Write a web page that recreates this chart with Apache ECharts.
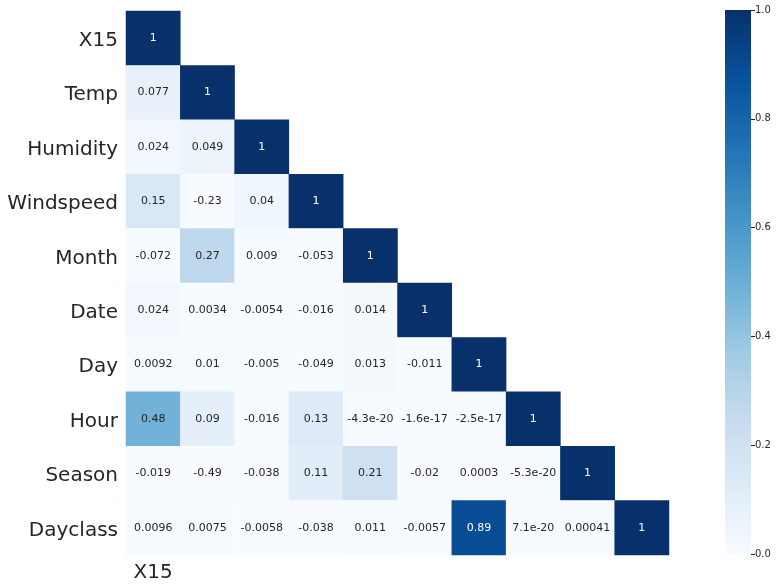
<!DOCTYPE html>
<html>
<head>
<meta charset="UTF-8">
<title>Correlation heatmap</title>
<script src="https://cdn.jsdelivr.net/npm/echarts@6/dist/echarts.min.js"></script>
<style>
  html, body { margin: 0; padding: 0; background: #fff; }
  #main { width: 782px; height: 588px; }
</style>
</head>
<body>
<div id="main"></div>
<script>
// variable names, top to bottom / left to right
var names = ['X15', 'Temp', 'Humidity', 'Windspeed', 'Month', 'Date', 'Day', 'Hour', 'Season', 'Dayclass'];

// lower triangle of the correlation matrix, one row per variable
var rowX15 = [1];
var rowTemp = [0.077, 1];
var rowHumidity = [0.024, 0.049, 1];
var rowWindspeed = [0.15, -0.23, 0.04, 1];
var rowMonth = [-0.072, 0.27, 0.009, -0.053, 1];
var rowDate = [0.024, 0.0034, -0.0054, -0.016, 0.014, 1];
var rowDay = [0.0092, 0.01, -0.005, -0.049, 0.013, -0.011, 1];
var rowHour = [0.48, 0.09, -0.016, 0.13, -4.3e-20, -1.6e-17, -2.5e-17, 1];
var rowSeason = [-0.019, -0.49, -0.038, 0.11, 0.21, -0.02, 0.0003, -5.3e-20, 1];
var rowDayclass = [0.0096, 0.0075, -0.0058, -0.038, 0.011, -0.0057, 0.89, 7.1e-20, 0.00041, 1];

var rows = [rowX15, rowTemp, rowHumidity, rowWindspeed, rowMonth, rowDate, rowDay, rowHour, rowSeason, rowDayclass];

// colorbar range / ticks
var barMin = 0, barMax = 1, barStep = 0.2;

// matplotlib "Blues"
var blues = ['#f7fbff', '#deebf7', '#c6dbef', '#9ecae1', '#6baed6', '#4292c6', '#2171b5', '#08519c', '#08306b'];

var FONT = 'DejaVu Sans';
var TXT = '#262626';

// like python's '.2g'
function fmt(v) {
  var s = v.toPrecision(2);
  if (s.indexOf('e') < 0 && s.indexOf('.') >= 0) {
    s = s.replace(/0+$/, '').replace(/\.$/, '');
  }
  return s;
}

var data = [];
rows.forEach(function (r, i) {
  r.forEach(function (v, j) {
    data.push({
      value: [j, i, Math.max(barMin, Math.min(barMax, v)), v],
      label: { color: v > 0.6 ? '#ffffff' : TXT }
    });
  });
});

// gradient for the colorbar, bottom (0) to top (1)
var stops = blues.map(function (c, k) {
  return { offset: k / (blues.length - 1), color: c };
});

var myChart = echarts.init(document.getElementById('main'));

var option = {
  animation: false,
  textStyle: { fontFamily: FONT },
  grid: [
    { left: 126, top: 11, width: 543, height: 544 },
    { left: 725, top: 10, width: 26, height: 544 }
  ],
  xAxis: [
    {
      type: 'category',
      gridIndex: 0,
      data: names,
      position: 'bottom',
      axisLine: { show: false },
      axisTick: { show: false },
      splitLine: { show: false },
      axisLabel: {
        interval: function (idx) { return idx === 0; },
        fontSize: 20,
        color: TXT,
        fontFamily: FONT,
        margin: 8
      }
    },
    {
      type: 'category',
      gridIndex: 1,
      data: ['bar'],
      show: false
    }
  ],
  yAxis: [
    {
      type: 'category',
      gridIndex: 0,
      data: names,
      inverse: true,
      axisLine: { show: false },
      axisTick: { show: false },
      splitLine: { show: false },
      axisLabel: {
        margin: 8,
        formatter: function (v) { return '{n|' + v + '}'; },
        rich: { n: { fontSize: 20, color: TXT, fontFamily: FONT, padding: [5, 0, 0, 0] } }
      }
    },
    {
      type: 'value',
      gridIndex: 1,
      position: 'right',
      min: barMin,
      max: barMax,
      interval: barStep,
      axisLine: { show: false },
      splitLine: { show: false },
      axisTick: { show: true, length: 4, lineStyle: { color: TXT, width: 1 } },
      axisLabel: {
        fontSize: 10,
        color: TXT,
        fontFamily: FONT,
        margin: 4,
        formatter: function (v) { return v.toFixed(1); }
      }
    }
  ],
  visualMap: {
    show: false,
    type: 'continuous',
    min: barMin,
    max: barMax,
    dimension: 2,
    seriesIndex: 0,
    inRange: { color: blues }
  },
  series: [
    {
      type: 'heatmap',
      xAxisIndex: 0,
      yAxisIndex: 0,
      data: data,
      label: {
        show: true,
        fontSize: 11,
        fontFamily: FONT,
        formatter: function (p) { return fmt(p.value[3]); }
      },
      itemStyle: { borderWidth: 0 },
      emphasis: { disabled: true }
    },
    {
      // colorbar
      type: 'bar',
      xAxisIndex: 1,
      yAxisIndex: 1,
      data: [barMax],
      barWidth: '100%',
      silent: true,
      itemStyle: { color: new echarts.graphic.LinearGradient(0, 1, 0, 0, stops) }
    }
  ]
};

myChart.setOption(option);
</script>
</body>
</html>
